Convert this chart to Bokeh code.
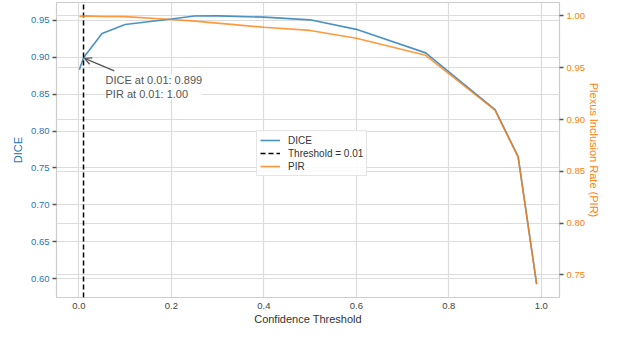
from bokeh.plotting import figure
from bokeh.models import (LinearAxis, Range1d, SingleIntervalTicker, PrintfTickFormatter,
                          Grid, Label, Arrow, OpenHead, Legend, LegendItem)
from bokeh.embed import file_html
from bokeh.resources import INLINE

# ---- data ----
thresholds = [0.001, 0.01, 0.05, 0.1, 0.2, 0.25, 0.3, 0.4, 0.5, 0.6, 0.75, 0.9, 0.95, 0.99]
dice = [0.883, 0.899, 0.932, 0.944, 0.9515, 0.9555, 0.9557, 0.954, 0.9504, 0.9375, 0.9057, 0.829, 0.7653, 0.5929]
pir = [0.9995, 1.000, 0.9995, 0.9993, 0.9965, 0.995, 0.993, 0.989, 0.986, 0.9785, 0.962, 0.909, 0.8637, 0.7412]
threshold_line = 0.01
x_ticks_interval = 0.2
y_ticks_interval = 0.05

BLUE = "#1f77b4"
ORANGE = "#ff7f0e"
FONT = "Liberation Sans"

def padded(vals, frac=0.05):
    lo, hi = min(vals), max(vals)
    m = (hi - lo) * frac
    return lo - m, hi + m

x_lo, x_hi = padded(thresholds)
d_lo, d_hi = padded(dice)
p_lo, p_hi = padded(pir)

W, H = 602, 327
BL, BR, BT = 56, 40, 2
p = figure(width=W, height=H, output_backend="svg", toolbar_location=None,
           x_range=Range1d(x_lo, x_hi), y_range=Range1d(d_lo, d_hi),
           min_border_left=BL, min_border_right=BR, min_border_top=BT, min_border_bottom=30)
p.extra_y_ranges = {"pir": Range1d(p_lo, p_hi)}

p.outline_line_color = "#cccccc"
p.outline_line_width = 1.2
p.background_fill_color = "white"
p.border_fill_color = "white"

# grids
p.xgrid.ticker = SingleIntervalTicker(interval=x_ticks_interval)
p.ygrid.ticker = SingleIntervalTicker(interval=y_ticks_interval)
for g in (p.xgrid[0], p.ygrid[0]):
    g.grid_line_color = "#dcdcdc"
    g.grid_line_width = 1.2
rgrid = Grid(dimension=1, y_range_name="pir", ticker=SingleIntervalTicker(interval=y_ticks_interval),
             grid_line_color="#dcdcdc", grid_line_width=1.2)
p.add_layout(rgrid)

# x axis
xa = p.xaxis[0]
xa.ticker = SingleIntervalTicker(interval=x_ticks_interval, num_minor_ticks=0)
xa.formatter = PrintfTickFormatter(format="%.1f")
xa.axis_label = "Confidence Threshold"
xa.axis_line_color = None
xa.major_tick_line_color = None
xa.minor_tick_line_color = None
xa.major_tick_out = 0
xa.major_label_standoff = 5
xa.axis_label_standoff = 1
xa.major_label_text_font = FONT
xa.major_label_text_font_size = "9.5px"
xa.major_label_text_color = "#444444"
xa.axis_label_text_font = FONT
xa.axis_label_text_font_size = "11px"
xa.axis_label_text_font_style = "normal"
xa.axis_label_text_color = "#333333"

# left axis
ya = p.yaxis[0]
ya.ticker = SingleIntervalTicker(interval=y_ticks_interval, num_minor_ticks=0)
ya.formatter = PrintfTickFormatter(format="%.2f")
ya.axis_label = "DICE"

# right axis
ra = LinearAxis(y_range_name="pir", axis_label="Plexus Inclusion Rate (PIR)",
                ticker=SingleIntervalTicker(interval=y_ticks_interval, num_minor_ticks=0),
                formatter=PrintfTickFormatter(format="%.2f"))
p.add_layout(ra, "right")

for ax, col, stand in ((ya, BLUE, 4), (ra, ORANGE, 0)):
    ax.axis_line_color = None
    ax.major_tick_line_color = "#555555"
    ax.major_tick_line_width = 1.3
    ax.major_tick_out = 4
    ax.major_tick_in = 0
    ax.minor_tick_line_color = None
    ax.major_label_standoff = 3
    ax.axis_label_standoff = stand
    ax.major_label_text_font = FONT
    ax.major_label_text_font_size = "9.5px"
    ax.major_label_text_color = col
    ax.axis_label_text_font = FONT
    ax.axis_label_text_font_size = "11px"
    ax.axis_label_text_font_style = "normal"
    ax.axis_label_text_color = col

# lines
r_dice = p.line(thresholds, dice, line_color=BLUE, line_width=1.6, line_alpha=0.8)
r_thr = p.line([threshold_line, threshold_line], [d_lo, d_hi], line_color="black",
               line_width=1.5, line_dash="5 3")
r_pir = p.line(thresholds, pir, line_color=ORANGE, line_width=1.6, line_alpha=0.8, y_range_name="pir")

legend = Legend(items=[LegendItem(label="DICE", renderers=[r_dice]),
                       LegendItem(label="Threshold = 0.01", renderers=[r_thr]),
                       LegendItem(label="PIR", renderers=[r_pir])],
                location=(200, 121), label_text_font=FONT, label_text_font_size="10px",
                label_text_color="#333333", glyph_width=20, glyph_height=12, label_height=12,
                label_standoff=8, spacing=1, padding=3, margin=0,
                border_line_color="#cccccc", border_line_width=1,
                background_fill_color="white", background_fill_alpha=0.85)
p.add_layout(legend, "center")

# annotation
i_thr = thresholds.index(threshold_line)
d_thr, p_thr = dice[i_thr], pir[i_thr]
frame_w, frame_h = W - BL - BR, 295
dx_per_px = (x_hi - x_lo) / frame_w
dy_per_px = (d_hi - d_lo) / frame_h
p.add_layout(Arrow(end=OpenHead(size=7, line_color="#555555", line_width=1.3),
                   x_start=threshold_line + 31 * dx_per_px, y_start=d_thr - 13 * dy_per_px,
                   x_end=threshold_line + 1 * dx_per_px, y_end=d_thr - 0.5 * dy_per_px,
                   line_color="#555555", line_width=1.3))
p.add_layout(Label(x=threshold_line, y=d_thr, x_offset=22, y_offset=-16,
                   text=f"DICE at {threshold_line:.2f}: {d_thr:.3f}\nPIR at {threshold_line:.2f}: {p_thr:.2f}",
                   text_font=FONT, text_font_size="11px", text_color="#555555",
                   text_align="left", text_baseline="top", text_line_height=1.15,
                   background_fill_color="white", background_fill_alpha=0.9))

open("out.html", "w").write(file_html(p, INLINE))
